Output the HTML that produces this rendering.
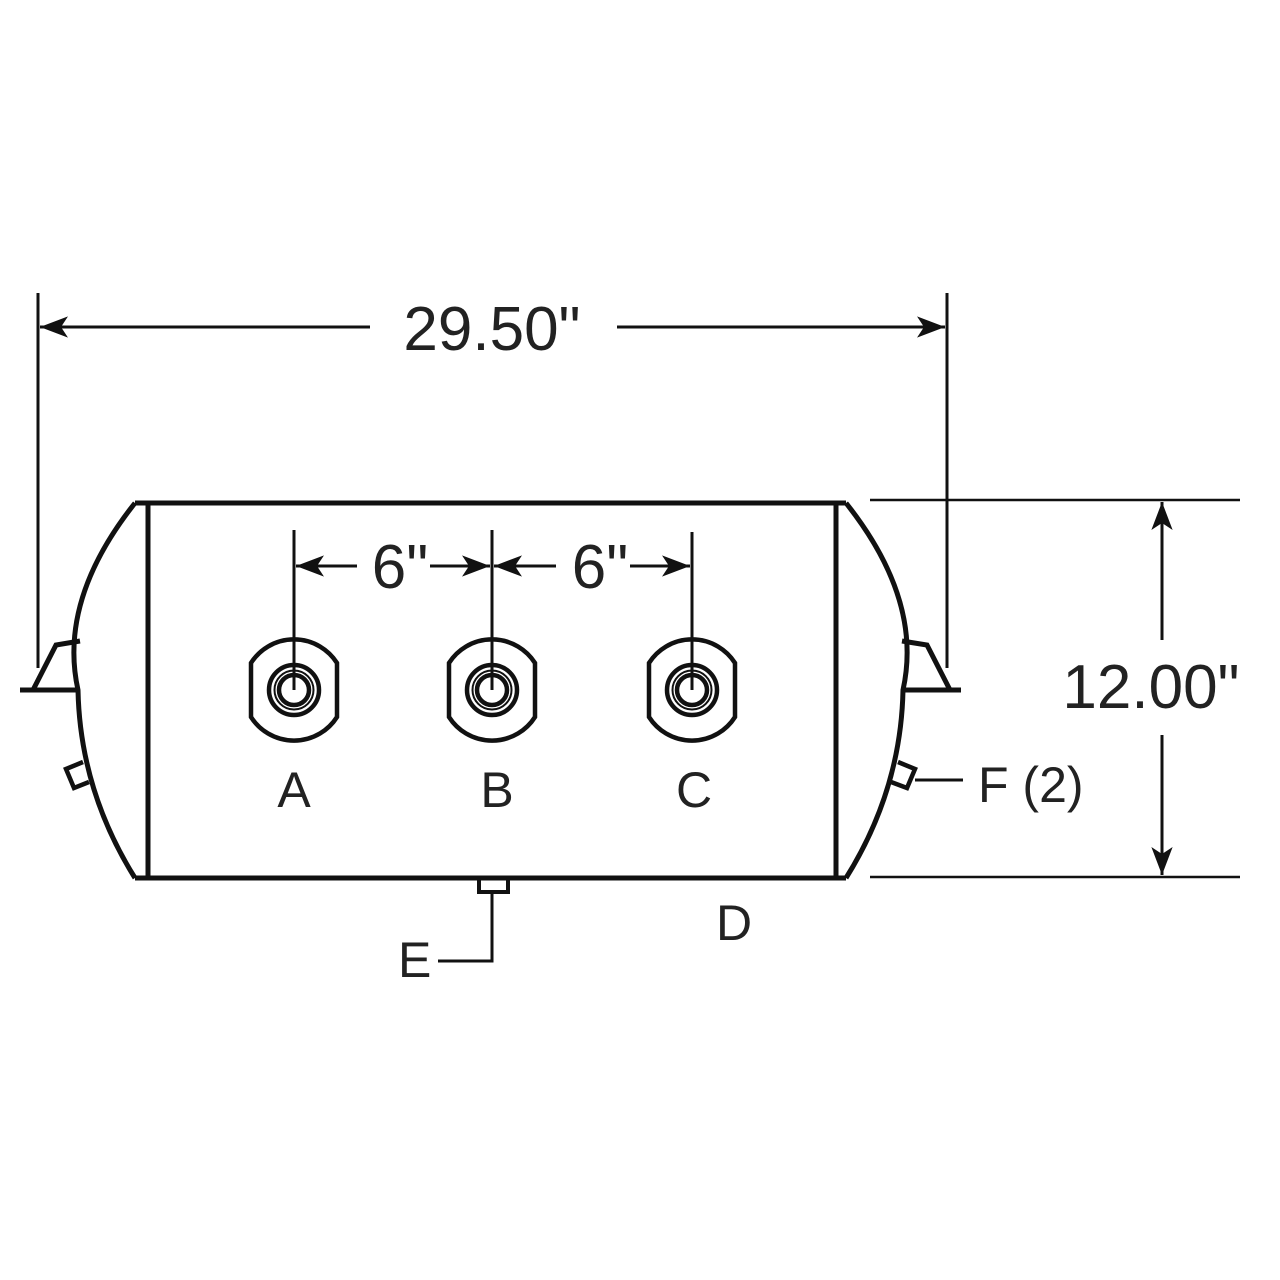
<!DOCTYPE html>
<html><head><style>html,body{margin:0;padding:0;background:#fff}svg{display:block}</style></head>
<body>
<svg width="1280" height="1280" viewBox="0 0 1280 1280" xmlns="http://www.w3.org/2000/svg" font-family="Liberation Sans, sans-serif" fill="none" stroke="#111">
<defs>
<marker id="ar" viewBox="0 0 10 10" refX="10" refY="5" markerWidth="28" markerHeight="28" markerUnits="userSpaceOnUse" orient="auto"><path d="M0,1.2 L10,5 L0,8.8 L2.5,5 Z" fill="#111" stroke="none"/></marker>
</defs>
<line x1="38" y1="293" x2="38" y2="668" stroke-width="3"/>
<line x1="947" y1="293" x2="947" y2="668" stroke-width="3"/>
<line x1="370" y1="327" x2="40" y2="327" stroke-width="3" marker-end="url(#ar)"/>
<line x1="617" y1="327" x2="945" y2="327" stroke-width="3" marker-end="url(#ar)"/>
<text x="492" y="350" font-size="62" fill="#222" stroke="none" text-anchor="middle">29.50"</text>
<line x1="870" y1="500" x2="1240" y2="500" stroke-width="2.5"/>
<line x1="870" y1="877" x2="1240" y2="877" stroke-width="2.5"/>
<line x1="1162" y1="640" x2="1162" y2="502" stroke-width="3" marker-end="url(#ar)"/>
<line x1="1162" y1="735" x2="1162" y2="875" stroke-width="3" marker-end="url(#ar)"/>
<text x="1151" y="708" font-size="62" fill="#222" stroke="none" text-anchor="middle">12.00"</text>
<g stroke-width="5">
<line x1="135" y1="503" x2="846" y2="503"/>
<line x1="135" y1="878" x2="846" y2="878"/>
<line x1="148" y1="503" x2="148" y2="878"/>
<line x1="836" y1="503" x2="836" y2="878"/>
<path d="M135,503 Q58,600 78,690 Q80,790 135,878"/>
<path d="M846,503 Q923,600 903,690 Q901,790 846,878"/>
<path d="M80,641 L56,645 L33,690"/>
<line x1="20" y1="690" x2="76" y2="690"/>
<path d="M902,641 L927,645 L950,690"/>
<line x1="904" y1="690" x2="961" y2="690"/>
<path d="M83,762 L66,769 L74,788 L89,782" stroke-width="4.5"/>
<path d="M898,762 L915,769 L907,788 L891,782" stroke-width="4.5"/>
<rect x="479" y="878" width="29" height="14" stroke-width="4"/>
</g>
<line x1="915" y1="780" x2="963" y2="780" stroke-width="3"/>
<text x="978" y="802" font-size="50" fill="#222" stroke="none">F (2)</text>
<polyline points="492,892 492,961 438,961" stroke-width="3"/>
<text x="398" y="977" font-size="50" fill="#222" stroke="none">E</text>
<text x="716" y="940" font-size="50" fill="#222" stroke="none">D</text>
<g stroke-width="4.5">
<path d="M251,663 A51,51 0 0 1 337,663 L337,717 A51,51 0 0 1 251,717 Z"/>
<path d="M251,663 A51,51 0 0 1 337,663 L337,717 A51,51 0 0 1 251,717 Z" transform="translate(198,0)"/>
<path d="M251,663 A51,51 0 0 1 337,663 L337,717 A51,51 0 0 1 251,717 Z" transform="translate(398,0)"/>
<circle cx="294" cy="690" r="25"/><circle cx="294" cy="690" r="15"/>
<circle cx="492" cy="690" r="25"/><circle cx="492" cy="690" r="15"/>
<circle cx="692" cy="690" r="25"/><circle cx="692" cy="690" r="15"/>
</g>
<g stroke-width="2">
<circle cx="294" cy="690" r="19.5"/><circle cx="492" cy="690" r="19.5"/><circle cx="692" cy="690" r="19.5"/>
</g>
<g stroke-width="3">
<line x1="294" y1="530" x2="294" y2="690"/>
<line x1="492" y1="530" x2="492" y2="690"/>
<line x1="692" y1="532" x2="692" y2="690"/>
<line x1="357" y1="566" x2="296" y2="566" marker-end="url(#ar)"/>
<line x1="430" y1="566" x2="490" y2="566" marker-end="url(#ar)"/>
<line x1="556" y1="566" x2="494" y2="566" marker-end="url(#ar)"/>
<line x1="630" y1="566" x2="690" y2="566" marker-end="url(#ar)"/>
</g>
<text x="400" y="588" font-size="62" fill="#222" stroke="none" text-anchor="middle">6"</text>
<text x="600" y="588" font-size="62" fill="#222" stroke="none" text-anchor="middle">6"</text>
<g font-size="50" fill="#222" stroke="none" text-anchor="middle">
<text x="294" y="807">A</text>
<text x="497" y="807">B</text>
<text x="694" y="807">C</text>
</g>
</svg>
</body></html>
